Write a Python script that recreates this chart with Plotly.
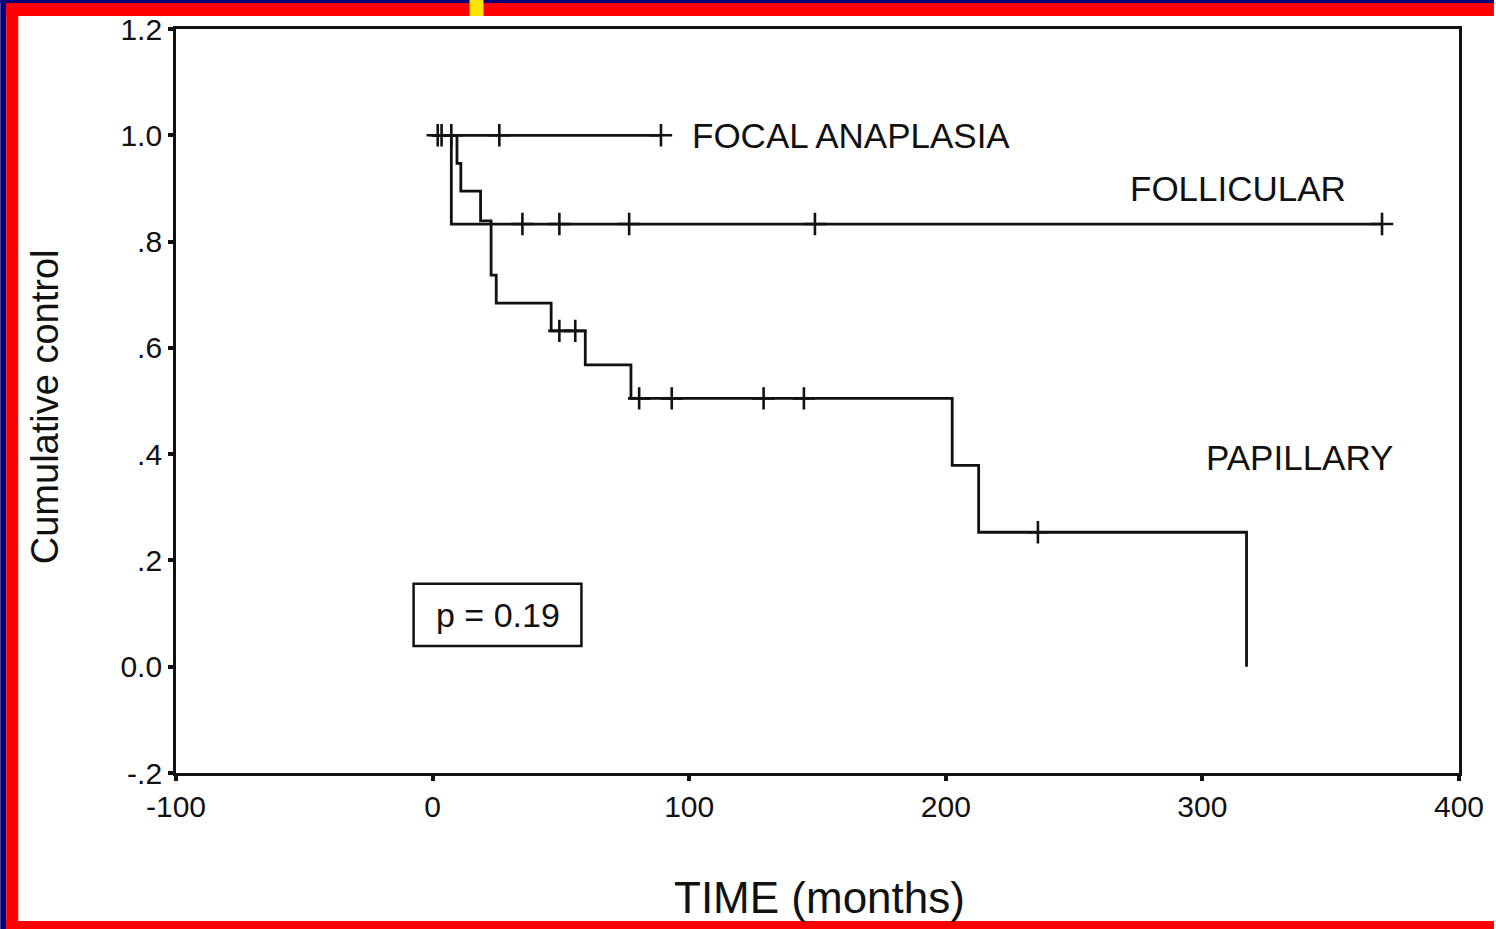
import plotly.graph_objects as go

# ---------------- data ----------------
focal_t = [0, 89]
focal_s = [1.0, 1.0]
focal_cens_t = [2, 3.5, 7.3, 26, 89]
focal_cens_s = [1.0, 1.0, 1.0, 1.0, 1.0]

foll_t = [0, 7.3, 370]
foll_s = [1.0, 0.833, 0.833]
foll_cens_t = [35, 49.4, 76.6, 149, 370]
foll_cens_s = [0.833, 0.833, 0.833, 0.833, 0.833]

pap_t = [0, 9.5, 11, 18.7, 22.8, 24.8, 46.2, 59.5, 77.3, 202.5, 212.8, 317.2]
pap_s = [1.0, 0.947, 0.895, 0.839, 0.737, 0.684, 0.632, 0.568, 0.505, 0.379, 0.253, 0.0]
pap_cens_t = [49.4, 55.6, 80.5, 93.2, 129, 144.7, 235.9]
pap_cens_s = [0.632, 0.632, 0.505, 0.505, 0.505, 0.505, 0.253]

x_ticks = [-100, 0, 100, 200, 300, 400]
x_ticktext = ["-100", "0", "100", "200", "300", "400"]
y_ticks = [-0.2, 0.0, 0.2, 0.4, 0.6, 0.8, 1.0, 1.2]
y_ticktext = ["-.2", "0.0", ".2", ".4", ".6", ".8", "1.0", "1.2"]

# ---------------- layout constants ----------------
W, H = 1496, 929
L, R, T, B = 176, 35, 29, 156
FONT = "Liberation Sans, Arial, sans-serif"
INK = "#111111"
NAVY = "#00007a"
RED = "#ff0000"
YELLOW = "#ffe400"


def px_x(p):
    return (p - L) / (W - L - R)


def px_y(p):
    return (H - B - p) / (H - T - B)


fig = go.Figure()

line_style = dict(color=INK, width=2.8, shape="hv")
cens_marker = dict(symbol="cross-thin", size=16, line=dict(color=INK, width=2.6))

for t, s, ct, cs, name in [
    (focal_t, focal_s, focal_cens_t, focal_cens_s, "FOCAL ANAPLASIA"),
    (foll_t, foll_s, foll_cens_t, foll_cens_s, "FOLLICULAR"),
    (pap_t, pap_s, pap_cens_t, pap_cens_s, "PAPILLARY"),
]:
    fig.add_trace(go.Scatter(x=t, y=s, mode="lines", line=line_style,
                             name=name, showlegend=False, hoverinfo="skip"))
    fig.add_trace(go.Scatter(x=ct, y=cs, mode="markers", marker=cens_marker,
                             name=name + " censored", showlegend=False))

axis_common = dict(showline=True, linecolor=INK, linewidth=2.8, mirror=True,
                   ticks="outside", ticklen=5, tickwidth=4, tickcolor=INK,
                   showgrid=False, zeroline=False,
                   tickfont=dict(family=FONT, size=30, color=INK))

fig.update_xaxes(range=[-100, 400], tickvals=x_ticks, ticktext=x_ticktext, **axis_common)
fig.update_yaxes(range=[-0.2, 1.2], tickvals=y_ticks, ticktext=y_ticktext, **axis_common)

LBL = 35
annotations = [
    dict(x=100.5, y=1.0, xref="x", yref="y", text="FOCAL ANAPLASIA",
         xanchor="left", yanchor="middle", showarrow=False,
         font=dict(family=FONT, size=LBL, color=INK)),
    dict(x=314, y=0.90, xref="x", yref="y", text="FOLLICULAR",
         xanchor="center", yanchor="middle", showarrow=False,
         font=dict(family=FONT, size=LBL, color=INK)),
    dict(x=338, y=0.394, xref="x", yref="y", text="PAPILLARY",
         xanchor="center", yanchor="middle", showarrow=False,
         font=dict(family=FONT, size=LBL, color=INK)),
    dict(x=25.3, y=0.098, xref="x", yref="y", text="p = 0.19",
         xanchor="center", yanchor="middle", showarrow=False,
         font=dict(family=FONT, size=34, color=INK)),
    dict(x=px_x(45), y=px_y(407), xref="paper", yref="paper",
         text="Cumulative control", textangle=-90,
         xanchor="center", yanchor="middle", showarrow=False,
         font=dict(family=FONT, size=38, color=INK)),
    dict(x=px_x(821), y=px_y(897), xref="paper", yref="paper",
         text="TIME (months)", xanchor="center", yanchor="middle", showarrow=False,
         font=dict(family=FONT, size=44, color=INK)),
]

shapes = [
    # p-value box
    dict(type="rect", xref="x", yref="y", x0=-7.4, x1=58, y0=0.039, y1=0.156,
         line=dict(color=INK, width=2.5), fillcolor="rgba(0,0,0,0)"),
    # frame borders
    dict(type="rect", xref="paper", yref="paper", x0=px_x(0), x1=px_x(W), y0=px_y(0), y1=px_y(3),
         fillcolor=NAVY, line=dict(width=0), layer="above"),
    dict(type="rect", xref="paper", yref="paper", x0=px_x(0), x1=px_x(6), y0=px_y(0), y1=px_y(H),
         fillcolor=NAVY, line=dict(width=0), layer="above"),
    dict(type="rect", xref="paper", yref="paper", x0=px_x(6), x1=px_x(W), y0=px_y(3), y1=px_y(16),
         fillcolor=RED, line=dict(width=0), layer="above"),
    dict(type="rect", xref="paper", yref="paper", x0=px_x(6), x1=px_x(18), y0=px_y(3), y1=px_y(H),
         fillcolor=RED, line=dict(width=0), layer="above"),
    dict(type="rect", xref="paper", yref="paper", x0=px_x(6), x1=px_x(W), y0=px_y(921), y1=px_y(H),
         fillcolor=RED, line=dict(width=0), layer="above"),
    dict(type="rect", xref="paper", yref="paper", x0=px_x(470), x1=px_x(484), y0=px_y(0), y1=px_y(16),
         fillcolor=YELLOW, line=dict(width=0), layer="above"),
]

fig.update_layout(
    width=W, height=H, autosize=False,
    margin=dict(l=L, r=R, t=T, b=B, pad=0),
    paper_bgcolor="white", plot_bgcolor="white",
    font=dict(family=FONT, color=INK),
    annotations=annotations, shapes=shapes,
    showlegend=False,
)

fig.write_html("out.html")
